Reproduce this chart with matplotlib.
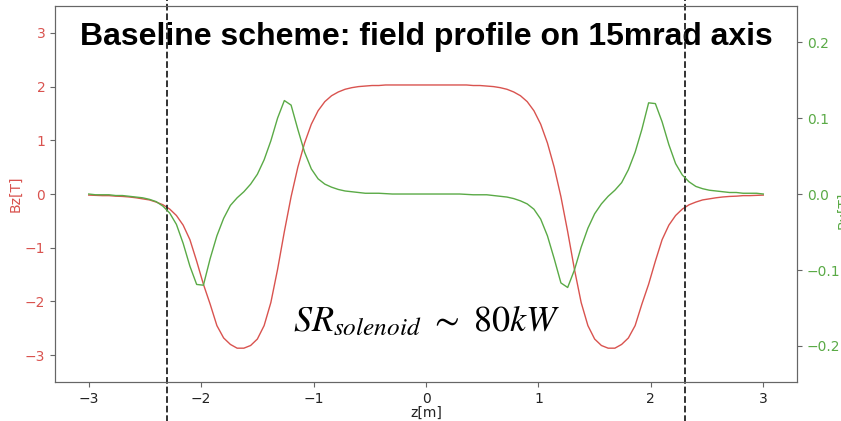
import matplotlib
matplotlib.use("Agg")
import matplotlib.pyplot as plt
import numpy as np

plt.rcParams["mathtext.fontset"] = "stix"

# sampling grid along the axis (m)
z = np.linspace(-3.0, 3.0, 101)

# Bz [T] on the 15 mrad axis
bz = [
    -0.02, -0.025, -0.03, -0.03, -0.04, -0.045, -0.055, -0.07, -0.09, -0.11,
    -0.15, -0.20, -0.28, -0.40, -0.58, -0.85, -1.25, -1.68, -2.05, -2.45,
    -2.68, -2.80, -2.87, -2.87, -2.82, -2.70, -2.45, -2.02, -1.40, -0.70,
    -0.05, 0.50, 0.95, 1.30, 1.55, 1.72, 1.83, 1.90, 1.95, 1.98,
    2.00, 2.01, 2.02, 2.02, 2.03, 2.03, 2.03, 2.03, 2.03, 2.03,
    2.03,
    2.03, 2.03, 2.03, 2.03, 2.03, 2.03, 2.02, 2.02, 2.01, 2.00,
    1.98, 1.95, 1.90, 1.83, 1.72, 1.55, 1.30, 0.95, 0.50, -0.05,
    -0.70, -1.40, -2.02, -2.45, -2.70, -2.82, -2.87, -2.87, -2.80, -2.68,
    -2.45, -2.05, -1.68, -1.25, -0.85, -0.58, -0.40, -0.28, -0.20, -0.15,
    -0.11, -0.09, -0.07, -0.055, -0.045, -0.04, -0.03, -0.03, -0.025, -0.02,
]

# transverse field [T] (right axis)
bx = [
    0.000, -0.001, -0.001, -0.001, -0.002, -0.002, -0.003, -0.004, -0.005, -0.007,
    -0.010, -0.016, -0.025, -0.040, -0.065, -0.095, -0.119, -0.120, -0.085, -0.055,
    -0.032, -0.015, -0.005, 0.003, 0.013, 0.026, 0.045, 0.070, 0.100, 0.123,
    0.117, 0.085, 0.055, 0.033, 0.020, 0.013, 0.009, 0.006, 0.004, 0.003,
    0.002, 0.001, 0.001, 0.001, 0.0005, 0.000, 0.000, 0.000, 0.000, 0.000,
    0.000,
    0.000, 0.000, 0.000, 0.000, -0.000, -0.0005, -0.001, -0.001, -0.001, -0.002,
    -0.003, -0.004, -0.006, -0.009, -0.013, -0.020, -0.033, -0.055, -0.085, -0.117,
    -0.123, -0.100, -0.070, -0.045, -0.026, -0.013, -0.003, 0.005, 0.015, 0.032,
    0.055, 0.085, 0.120, 0.119, 0.095, 0.065, 0.040, 0.025, 0.016, 0.010,
    0.007, 0.005, 0.004, 0.003, 0.002, 0.002, 0.001, 0.001, 0.001, 0.000,
]

marker_z = [-2.3, 2.3]

red = "#d9534f"
green = "#5aaa46"
spine = "#666666"

fig = plt.figure(figsize=(8.41, 4.21), dpi=100)
ax = fig.add_axes([0.0654, 0.0926, 0.8823, 0.8931])
ax2 = ax.twinx()

ax.plot(z, bz, color=red, linewidth=1.0)
ax2.plot(z, bx, color=green, linewidth=1.0)

ax.set_xlim(-3.3, 3.3)
ax.set_ylim(-3.5, 3.5)
ax2.set_ylim(-0.2474, 0.2474)
ax.set_xticks([-3, -2, -1, 0, 1, 2, 3])
ax.set_yticks([-3, -2, -1, 0, 1, 2, 3])
ax2.set_yticks([-0.2, -0.1, 0.0, 0.1, 0.2])

ax.tick_params(axis="y", colors=spine, labelcolor=red, labelsize=10)
ax.tick_params(axis="x", colors=spine, labelcolor="#222222", labelsize=10)
ax2.tick_params(axis="y", colors=spine, labelcolor=green, labelsize=10)
for a in (ax, ax2):
    for s in a.spines.values():
        s.set_color(spine)

ax.set_xlabel("z[m]", fontsize=10, color="#222222", labelpad=0)
ax.set_ylabel("Bz[T]", fontsize=10, color=red)
ax.yaxis.set_label_coords(-0.044, 0.5)
# right-hand label sits at the figure edge, as in the original crop
fig.text(0.995, 0.5, "Bx[T]", rotation=90, color=green, fontsize=10,
         ha="left", va="center")

for zm in marker_z:
    ax.axvline(zm, ymin=-0.11, ymax=1.02, clip_on=False, color="#222222",
               linestyle="--", linewidth=1.3, zorder=5)

ax.text(0.5, 0.918, "Baseline scheme: field profile on 15mrad axis",
        transform=ax.transAxes, ha="center", va="center", fontsize=23,
        fontweight="bold", family="Liberation Sans", color="black")
ax.text(0.5, 0.162, r"$SR_{solenoid}\ \sim\ 80kW$", transform=ax.transAxes,
        ha="center", va="center", fontsize=26, color="black")

plt.savefig("out.png", dpi=100)
plt.close()
